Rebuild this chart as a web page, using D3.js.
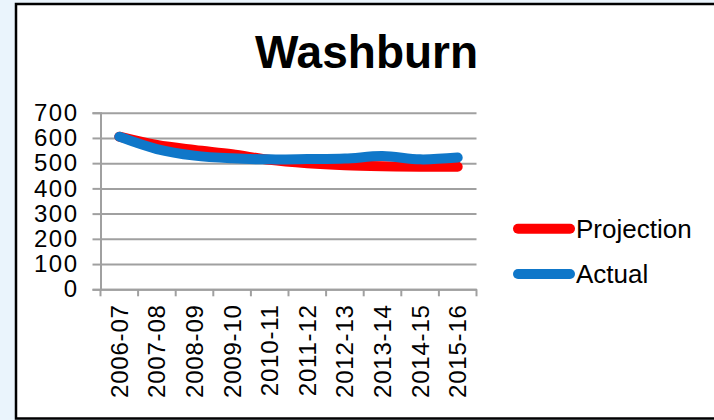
<!DOCTYPE html>
<html>
<head>
<meta charset="utf-8">
<script src="https://cdn.jsdelivr.net/npm/d3@7"></script>
<style>
  body { margin: 0; background: #eaf4fc; }
  svg { display: block; font-family: 'Liberation Sans', Arial, sans-serif; }
</style>
</head>
<body>
<div id="chart"></div>
<script>
const years = ['2006-07', '2007-08', '2008-09', '2009-10', '2010-11',
  '2011-12', '2012-13', '2013-14', '2014-15', '2015-16'];
const projection = [605, 572, 552, 535, 513, 500, 492, 488, 486, 486];
const actual = [605, 556, 530, 519, 515, 516, 518, 528, 515, 522];
const yTicks = [0, 100, 200, 300, 400, 500, 600, 700];

const WIDTH = 714, HEIGHT = 420;
const plot = { left: 100.5, right: 476.5, top: 112.7, bottom: 289.3 };

const svg = d3.select('#chart').append('svg')
  .attr('width', WIDTH)
  .attr('height', HEIGHT);

// white chart frame
svg.append('rect')
  .attr('x', 16).attr('y', 4)
  .attr('width', WIDTH).attr('height', 414.5)
  .attr('fill', '#fff')
  .attr('stroke', '#000')
  .attr('stroke-width', 2.5);

// title
svg.append('text')
  .attr('x', 366.5).attr('y', 68)
  .attr('text-anchor', 'middle')
  .style('font-size', '46px')
  .style('font-weight', 'bold')
  .text('Washburn');

const xScale = d3.scaleBand().domain(years).range([plot.left, plot.right]);
const yScale = d3.scaleLinear().domain([0, 700]).range([plot.bottom, plot.top]);

// gridlines
svg.append('g')
  .attr('transform', `translate(${plot.left},0)`)
  .call(d3.axisLeft(yScale).tickValues(yTicks).tickSize(-(plot.right - plot.left)).tickFormat(''))
  .call(g => g.select('.domain').remove())
  .call(g => g.selectAll('.tick line').attr('stroke', '#a0a0a0').attr('stroke-width', 2));

// y axis with labels
svg.append('g')
  .attr('transform', `translate(${plot.left},0)`)
  .call(d3.axisLeft(yScale).tickValues(yTicks).tickSize(8).tickPadding(14))
  .call(g => g.select('.domain').attr('stroke', '#a0a0a0').attr('stroke-width', 2))
  .call(g => g.selectAll('.tick line').attr('stroke', '#a0a0a0').attr('stroke-width', 2))
  .call(g => g.selectAll('.tick text')
    .style('font-size', '24px').style('letter-spacing', '1.5px').attr('fill', '#000')
    .attr('font-family', null));

// x axis: labels at band centres, ticks at band edges
const xAxis = svg.append('g')
  .attr('transform', `translate(0,${plot.bottom})`)
  .call(d3.axisBottom(xScale).tickSize(0).tickSizeOuter(0))
  .call(g => g.select('.domain').attr('stroke', '#a0a0a0').attr('stroke-width', 2));
xAxis.selectAll('.tick text')
  .attr('transform', 'rotate(-90)')
  .attr('text-anchor', 'end')
  .attr('x', -15)
  .attr('y', 0)
  .attr('dy', '0.35em')
  .style('font-size', '24px')
  .style('letter-spacing', '0.8px')
  .attr('fill', '#000')
  .attr('font-family', null);
const edges = years.map(d => xScale(d)).concat([xScale.range()[1]]);
xAxis.selectAll('line.edge')
  .data(edges)
  .enter()
  .append('line')
  .attr('class', 'edge')
  .attr('x1', d => d).attr('x2', d => d)
  .attr('y1', 0).attr('y2', 7)
  .attr('stroke', '#a0a0a0')
  .attr('stroke-width', 2);

// series
const series = [
  { name: 'Projection', values: projection, color: '#ff0000' },
  { name: 'Actual', values: actual, color: '#0f77c9' }
];
const line = d3.line()
  .x((d, i) => xScale(years[i]) + xScale.bandwidth() / 2)
  .y(d => yScale(d))
  .curve(d3.curveCatmullRom.alpha(0.5));

svg.selectAll('path.series')
  .data(series)
  .enter()
  .append('path')
  .attr('class', 'series')
  .attr('d', d => line(d.values))
  .attr('fill', 'none')
  .attr('stroke', d => d.color)
  .attr('stroke-width', 10)
  .attr('stroke-linecap', 'round')
  .attr('stroke-linejoin', 'round');

// legend
const legend = svg.selectAll('g.legend')
  .data(series)
  .enter()
  .append('g')
  .attr('class', 'legend')
  .attr('transform', (d, i) => `translate(0,${228.7 + i * 45.3})`);
legend.append('line')
  .attr('x1', 518).attr('x2', 570)
  .attr('y1', 0).attr('y2', 0)
  .attr('stroke', d => d.color)
  .attr('stroke-width', 10)
  .attr('stroke-linecap', 'round');
legend.append('text')
  .attr('x', 576).attr('y', 0)
  .attr('dy', '0.35em')
  .style('font-size', '26px')
  .text(d => d.name);
</script>
</body>
</html>
